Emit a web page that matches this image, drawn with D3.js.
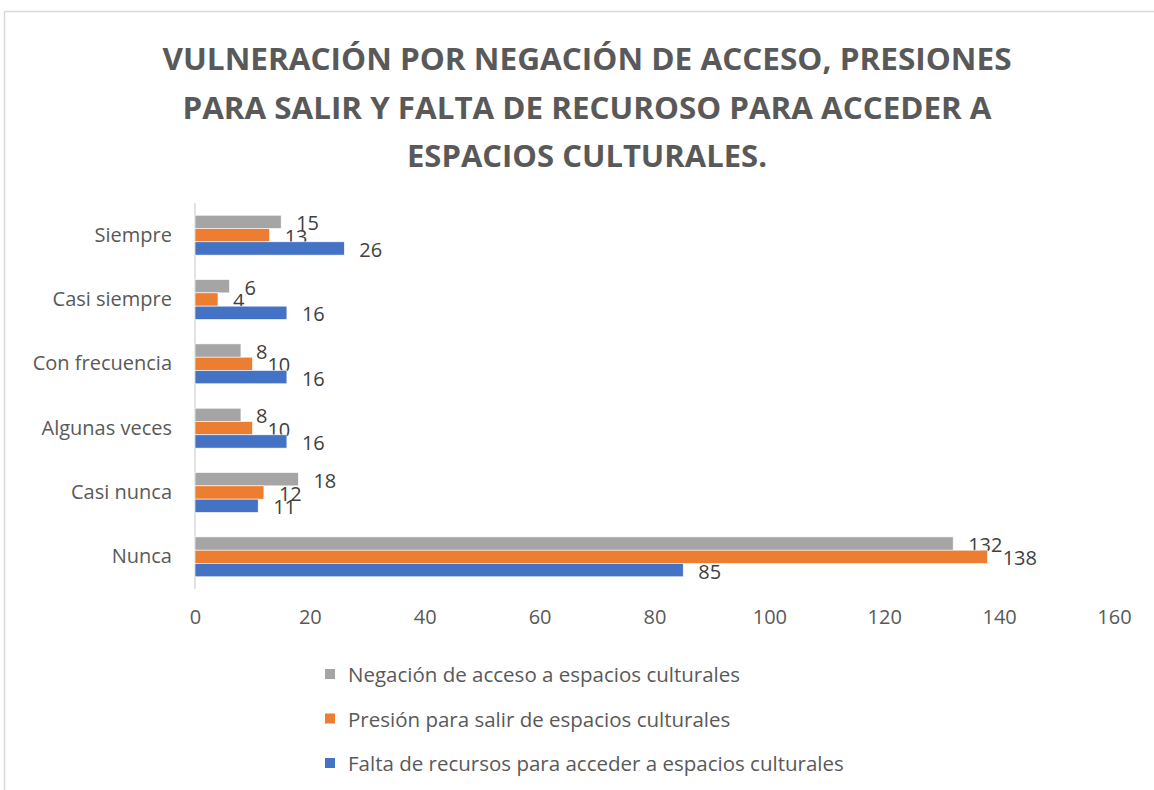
<!DOCTYPE html>
<html lang="es">
<head>
  <meta charset="UTF-8">
  <title>Vulneración por negación de acceso</title>
  <script src="https://d3js.org/d3.v7.min.js"></script>
  <style>
    body { margin: 0; background: #fff; }
    text { font-family: "Open Sans", sans-serif; }
  </style>
</head>
<body>
<div class="main"></div>
<script>
  // categories top to bottom
  var categories = ["Siempre", "Casi siempre", "Con frecuencia", "Algunas veces", "Casi nunca", "Nunca"];
  var seriesNames = [
    "Negación de acceso a espacios culturales",
    "Presión para salir de espacios culturales",
    "Falta de recursos para acceder a espacios culturales"
  ];
  var negacion = [15, 6, 8, 8, 18, 132];
  var presion = [13, 4, 10, 10, 12, 138];
  var falta = [26, 16, 16, 16, 11, 85];
  var xTicks = [0, 20, 40, 60, 80, 100, 120, 140, 160];
  var titleLines = [
    "VULNERACIÓN POR NEGACIÓN DE ACCESO, PRESIONES",
    "PARA SALIR Y FALTA DE RECUROSO PARA ACCEDER A",
    "ESPACIOS CULTURALES."
  ];

  var colors = ["#A5A5A5", "#ED7D31", "#4472C4"];
  var seriesValues = [negacion, presion, falta];

  let width = 1154;
  let height = 790;
  let svg = d3.select(".main").append("svg").attr("width", width).attr("height", height).style("display", "block");

  // chart border (top and left visible)
  svg.append("line").attr("x1", 4.5).attr("y1", 11.5).attr("x2", width).attr("y2", 11.5).style("stroke", "#D9D9D9").style("stroke-width", 1.5);
  svg.append("line").attr("x1", 4.5).attr("y1", 11.5).attr("x2", 4.5).attr("y2", height).style("stroke", "#D9D9D9").style("stroke-width", 1.5);

  // title
  var titleWidths = [849, 809, 360];
  titleLines.forEach(function(t, i) {
    svg.append("text")
      .attr("x", 587).attr("y", 58 + i * 48.5)
      .attr("text-anchor", "middle").attr("dominant-baseline", "central")
      .attr("textLength", titleWidths[i]).attr("lengthAdjust", "spacingAndGlyphs")
      .style("font-size", "31px").style("font-weight", "bold").style("fill", "#595959")
      .text(t);
  });

  let x = d3.scaleLinear().domain([0, 160]).range([195, 1114]);
  let y = d3.scaleBand().domain(categories).range([203, 589]).paddingInner(0.38).paddingOuter(0.19);
  let ySub = d3.scaleBand().domain(d3.range(3)).range([0, y.bandwidth()]);

  // x-axis tick labels
  let xAxis = svg.append("g").attr("transform", "translate(0,607)")
    .call(d3.axisBottom(x).tickValues(xTicks).tickSize(0).tickFormat(d3.format("d")));
  xAxis.select(".domain").remove();
  xAxis.selectAll("text").style("font-size", "20px").style("fill", "#595959").style("font-family", "'Open Sans', sans-serif");

  // y-axis line and labels
  svg.append("line").attr("x1", x(0)).attr("y1", 203).attr("x2", x(0)).attr("y2", 589).style("stroke", "#D9D9D9").style("stroke-width", 1.5);
  let yAxis = svg.append("g").attr("transform", "translate(" + (x(0) - 10) + ",0)")
    .call(d3.axisLeft(y).tickSize(0).tickPadding(13));
  yAxis.select(".domain").remove();
  yAxis.selectAll("text").style("font-size", "20px").style("fill", "#595959").style("font-family", "'Open Sans', sans-serif");

  // bars and data labels
  seriesValues.forEach(function(vals, s) {
    let g = svg.append("g");
    g.selectAll("rect").data(vals).join("rect")
      .attr("x", x(0))
      .attr("y", function(d, i) { return y(categories[i]) + ySub(s); })
      .attr("width", function(d) { return x(d) - x(0); })
      .attr("height", ySub.bandwidth())
      .style("fill", colors[s])
      .style("stroke", "#fff").style("stroke-width", 0.6);
    g.selectAll("text").data(vals).join("text")
      .attr("x", function(d) { return x(d) + 15; })
      .attr("y", function(d, i) { return y(categories[i]) + ySub(s) + ySub.bandwidth() / 2 + 1; })
      .attr("dominant-baseline", "central")
      .style("font-size", "20px").style("fill", "#404040")
      .text(function(d) { return d; });
  });

  // legend
  seriesNames.forEach(function(name, i) {
    let ly = 674 + i * 44.5;
    svg.append("rect").attr("x", 325).attr("y", ly - 5).attr("width", 10).attr("height", 10).style("fill", colors[i]);
    svg.append("text").attr("x", 348).attr("y", ly).attr("dominant-baseline", "central")
      .style("font-size", "20.5px").style("fill", "#595959").text(name);
  });
</script>
</body>
</html>
